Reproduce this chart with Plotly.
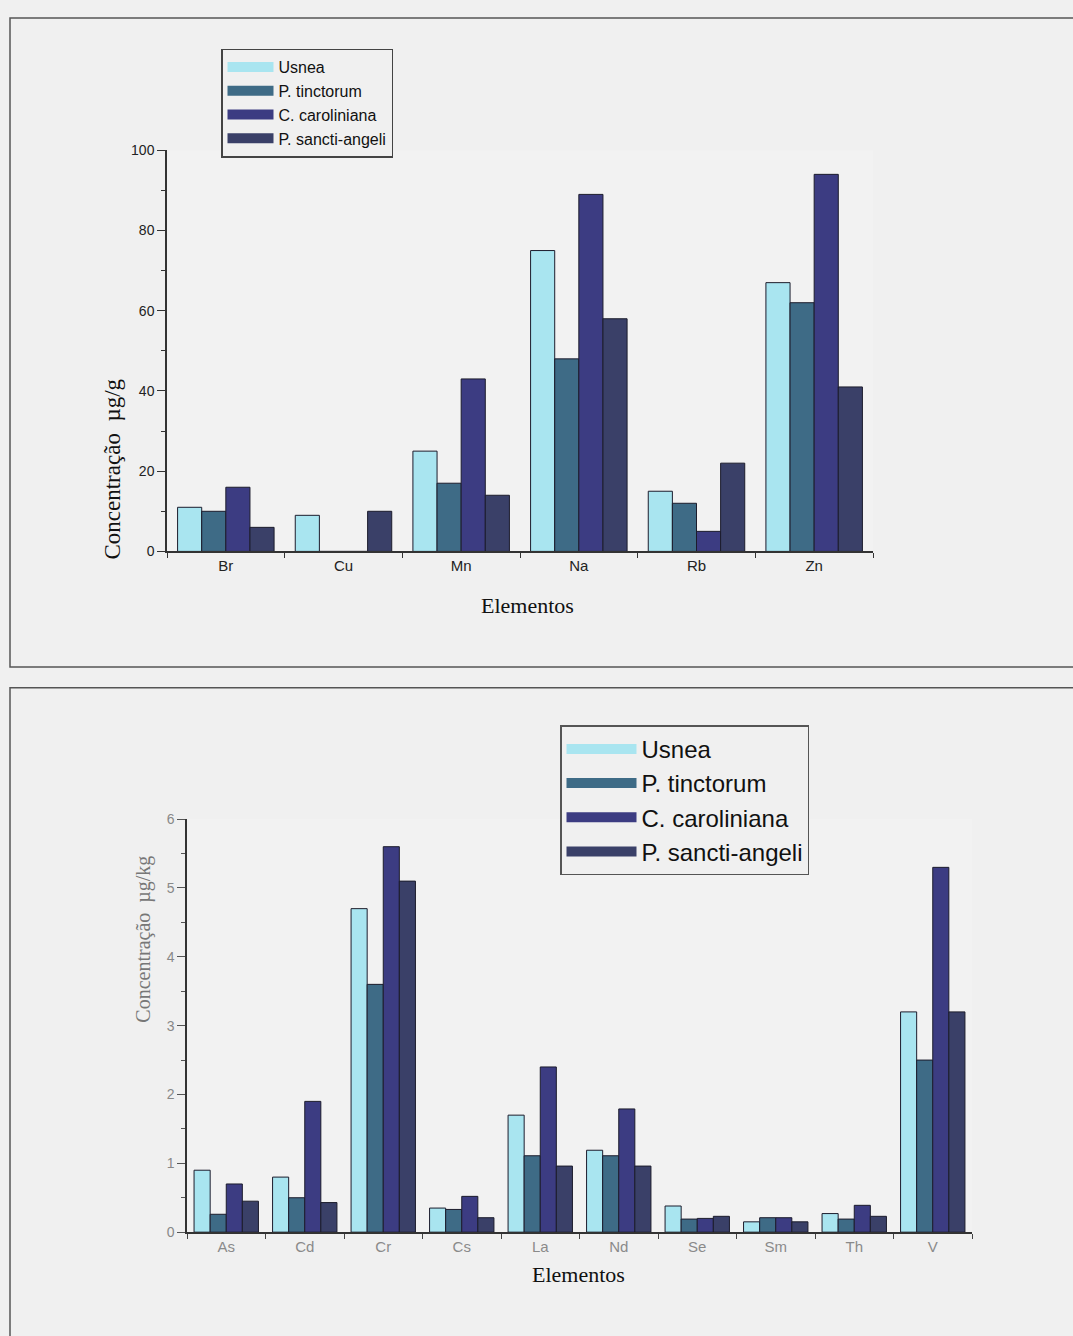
import plotly.graph_objects as go

W, H = 1073, 1336

series = ["Usnea", "P. tinctorum", "C. caroliniana", "P. sancti-angeli"]
colors = ["#a9e5f0", "#3e6b86", "#3c3c82", "#3a4068"]

top_elements = ["Br", "Cu", "Mn", "Na", "Rb", "Zn"]
top_usnea = [11, 9, 25, 75, 15, 67]
top_tinct = [10, 0, 17, 48, 12, 62]
top_carol = [16, 0, 43, 89, 5, 94]
top_sancti = [6, 10, 14, 58, 22, 41]

bot_elements = ["As", "Cd", "Cr", "Cs", "La", "Nd", "Se", "Sm", "Th", "V"]
bot_usnea = [0.9, 0.8, 4.7, 0.35, 1.7, 1.19, 0.38, 0.15, 0.27, 3.2]
bot_tinct = [0.26, 0.5, 3.6, 0.33, 1.11, 1.11, 0.19, 0.21, 0.19, 2.5]
bot_carol = [0.7, 1.9, 5.6, 0.52, 2.4, 1.79, 0.2, 0.21, 0.39, 5.3]
bot_sancti = [0.45, 0.43, 5.1, 0.21, 0.96, 0.96, 0.23, 0.15, 0.23, 3.2]

fig = go.Figure()

top_vals = [top_usnea, top_tinct, top_carol, top_sancti]
bot_vals = [bot_usnea, bot_tinct, bot_carol, bot_sancti]

for name, col, vals in zip(series, colors, top_vals):
    fig.add_trace(go.Bar(x=top_elements, y=vals, name=name, marker_color=col,
                         marker_line=dict(color="#1c1c2c", width=1),
                         xaxis="x", yaxis="y", showlegend=False))
for name, col, vals in zip(series, colors, bot_vals):
    fig.add_trace(go.Bar(x=bot_elements, y=vals, name=name, marker_color=col,
                         marker_line=dict(color="#1c1c2c", width=1),
                         xaxis="x2", yaxis="y2", showlegend=False))

# legend swatches (wide rectangles like the original), no data
for name, col in zip(series, colors):
    fig.add_trace(go.Scatter(x=[None], y=[None], mode="lines", name=name,
                             line=dict(color=col, width=10),
                             xaxis="x", yaxis="y", legend="legend"))
for name, col in zip(series, colors):
    fig.add_trace(go.Scatter(x=[None], y=[None], mode="lines", name=name,
                             line=dict(color=col, width=10),
                             xaxis="x2", yaxis="y2", legend="legend2"))

def px(xp):
    return xp / W

def py(yp):
    return 1 - yp / H

sans = "Liberation Sans, Arial, sans-serif"
serif = "Liberation Serif, Times New Roman, serif"

axis_common = dict(showline=True, linecolor="#333", linewidth=1.5, showgrid=False, zeroline=False)

fig.update_layout(
    width=W, height=H,
    margin=dict(l=0, r=0, t=0, b=0),
    paper_bgcolor="#f0f0f0", plot_bgcolor="#f2f2f2",
    barmode="group", bargap=0.18, bargroupgap=0,
    xaxis=dict(domain=[px(167), px(873)], anchor="y", tickson="boundaries",
               ticks="outside", ticklen=5, tickcolor="#333",
               tickfont=dict(family=sans, size=15, color="#222"), **axis_common),
    yaxis=dict(domain=[py(550), py(144)], anchor="x", range=[0, 100], dtick=20,
               ticks="outside", ticklen=8, tickcolor="#333",
               tickfont=dict(family=sans, size=14, color="#222"),
               minor=dict(ticks="outside", ticklen=4, dtick=10, tickcolor="#333"),
               **axis_common),
    xaxis2=dict(domain=[px(187), px(972)], anchor="y2", tickson="boundaries",
                ticks="outside", ticklen=5, tickcolor="#444",
                tickfont=dict(family=sans, size=15, color="#8a8a8a"), **axis_common),
    yaxis2=dict(domain=[py(1239), py(821)], anchor="x2", range=[0, 6], dtick=1,
                ticks="outside", ticklen=8, tickcolor="#555",
                tickfont=dict(family=sans, size=14, color="#888"),
                minor=dict(ticks="outside", ticklen=4, dtick=0.5, tickcolor="#555"),
                **axis_common),
    legend=dict(x=px(221), y=py(41), xanchor="left", yanchor="top",
                bgcolor="#f0f0f0", bordercolor="#444", borderwidth=1.5,
                font=dict(family=sans, size=16, color="#111"),
                tracegroupgap=0, itemwidth=46),
    legend2=dict(x=px(560), y=py(726), xanchor="left", yanchor="top",
                 bgcolor="#f0f0f0", bordercolor="#555", borderwidth=1.5,
                 font=dict(family=sans, size=24, color="#111"),
                 tracegroupgap=0, itemwidth=70),
    showlegend=True,
)

# panel borders
fig.add_shape(type="rect", xref="paper", yref="paper",
              x0=px(10), x1=1.05, y0=py(667), y1=py(10),
              line=dict(color="#555", width=1.5), fillcolor="rgba(0,0,0,0)", layer="below")
fig.add_shape(type="rect", xref="paper", yref="paper",
              x0=px(10), x1=1.05, y0=-0.05, y1=py(688),
              line=dict(color="#555", width=1.5), fillcolor="rgba(0,0,0,0)", layer="below")

# axis titles
fig.add_annotation(text="Concentração  µg/g", xref="paper", yref="paper",
                   x=px(98), y=py(373), textangle=-90, showarrow=False,
                   font=dict(family=serif, size=23, color="#111"))
fig.add_annotation(text="Elementos", xref="paper", yref="paper",
                   x=px(527), y=py(605), showarrow=False,
                   font=dict(family=serif, size=22, color="#111"))
fig.add_annotation(text="Concentração  µg/kg", xref="paper", yref="paper",
                   x=px(130), y=py(1029), textangle=-90, showarrow=False,
                   font=dict(family=serif, size=20, color="#777"))
fig.add_annotation(text="Elementos", xref="paper", yref="paper",
                   x=px(578), y=py(1297), showarrow=False,
                   font=dict(family=serif, size=22, color="#111"))

fig.write_html("out.html", config={"displayModeBar": False},
               post_script="document.body.style.margin='0';document.body.style.overflow='hidden';")
